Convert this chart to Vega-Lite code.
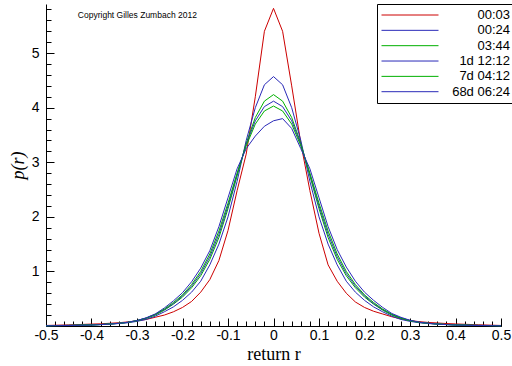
{
  "$schema": "https://vega.github.io/schema/vega-lite/v6.json",
  "width": 455,
  "height": 322,
  "autosize": "none",
  "padding": {"left": 46, "top": 4, "right": 11, "bottom": 40},
  "background": "white",
  "config": {
    "view": {"stroke": null},
    "axis": {
      "grid": false,
      "labelFont": "Liberation Sans",
      "labelFontSize": 14,
      "labelColor": "black",
      "labelFlush": false,
      "labelOverlap": false,
      "tickColor": "black",
      "domainColor": "black",
      "titleFont": "Liberation Serif",
      "titleFontSize": 18,
      "titleFontWeight": "normal",
      "titleColor": "black"
    }
  },
  "layer": [
    {
      "data": {"name": "curves"},
      "transform": [
        {"fold": ["00:03", "00:24", "03:44", "1d 12:12", "7d 04:12", "68d 06:24"], "as": ["series", "p"]}
      ],
      "mark": {"type": "line", "opacity": 0},
      "encoding": {
        "x": {
          "field": "x", "type": "quantitative",
          "scale": {"domain": [-0.5, 0.5], "nice": false, "zero": false},
          "axis": {"orient": "bottom", "tickCount": 50, "labels": false, "domain": false, "tickSize": -5, "title": null}
        },
        "y": {
          "field": "p", "type": "quantitative",
          "scale": {"domain": [0, 5.9], "nice": false, "zero": false},
          "axis": {"orient": "left", "tickCount": 30, "labels": false, "domain": false, "tickSize": -5, "title": null}
        },
        "detail": {"field": "series"}
      }
    },
    {
      "data": {"name": "curves"},
      "transform": [
        {"fold": ["00:03", "00:24", "03:44", "1d 12:12", "7d 04:12", "68d 06:24"], "as": ["series", "p"]}
      ],
      "mark": {"type": "line", "strokeWidth": 1},
      "encoding": {
        "x": {
          "field": "x", "type": "quantitative",
          "axis": {
            "orient": "bottom", "tickCount": 10, "tickSize": -8, "labelPadding": 10,
            "labelExpr": "replace(format(datum.value, '~g'), '\u2212', '-')",
            "title": "return  r", "titlePadding": 3
          }
        },
        "y": {
          "field": "p", "type": "quantitative",
          "axis": {
            "orient": "left", "tickCount": 6, "tickSize": -8, "labelPadding": 15,
            "labelExpr": "datum.value == 0 ? '' : format(datum.value, 'd')",
            "title": "p(r)", "titleFontStyle": "italic", "titlePadding": 4
          }
        },
        "color": {
          "field": "series", "type": "nominal",
          "scale": {
            "domain": ["00:03", "00:24", "03:44", "1d 12:12", "7d 04:12", "68d 06:24"],
            "range": ["#cc0000", "#2a2ab8", "#00b000", "#2a2ab8", "#00b000", "#2a2ab8"]
          },
          "legend": {
            "orient": "none", "legendX": 331, "legendY": 0,
            "title": null,
            "symbolType": "stroke", "symbolSize": 3249, "symbolStrokeWidth": 1,
            "clipHeight": 14, "rowPadding": 1.34,
            "labelAlign": "right", "labelOffset": 71,
            "labelFont": "Liberation Sans", "labelFontSize": 13, "labelColor": "black",
            "padding": 4, "strokeColor": "black", "fillColor": "white", "cornerRadius": 0
          }
        }
      }
    },
    {
      "data": {"values": [{"note": "Copyright Gilles Zumbach 2012"}]},
      "mark": {"type": "text", "font": "Liberation Sans", "fontSize": 8.5, "align": "left", "baseline": "middle", "fill": "black"},
      "encoding": {
        "text": {"field": "note"},
        "x": {"datum": -0.43, "type": "quantitative", "axis": null},
        "y": {"datum": 5.69, "type": "quantitative", "axis": null}
      }
    }
  ],
  "datasets": {
    "curves": [
      {"x": -0.5, "00:03": 0.01, "00:24": 0.007, "03:44": 0.006, "1d 12:12": 0.005, "7d 04:12": 0.005, "68d 06:24": 0.004},
      {"x": -0.45, "00:03": 0.02, "00:24": 0.012, "03:44": 0.011, "1d 12:12": 0.01, "7d 04:12": 0.01, "68d 06:24": 0.009},
      {"x": -0.4, "00:03": 0.035, "00:24": 0.02, "03:44": 0.02, "1d 12:12": 0.02, "7d 04:12": 0.02, "68d 06:24": 0.018},
      {"x": -0.38, "00:03": 0.04, "00:24": 0.027, "03:44": 0.027, "1d 12:12": 0.027, "7d 04:12": 0.027, "68d 06:24": 0.025},
      {"x": -0.36, "00:03": 0.05, "00:24": 0.035, "03:44": 0.036, "1d 12:12": 0.037, "7d 04:12": 0.037, "68d 06:24": 0.035},
      {"x": -0.34, "00:03": 0.06, "00:24": 0.045, "03:44": 0.048, "1d 12:12": 0.05, "7d 04:12": 0.05, "68d 06:24": 0.048},
      {"x": -0.32, "00:03": 0.075, "00:24": 0.06, "03:44": 0.065, "1d 12:12": 0.068, "7d 04:12": 0.068, "68d 06:24": 0.068},
      {"x": -0.3, "00:03": 0.095, "00:24": 0.085, "03:44": 0.095, "1d 12:12": 0.1, "7d 04:12": 0.1, "68d 06:24": 0.1},
      {"x": -0.28, "00:03": 0.12, "00:24": 0.12, "03:44": 0.14, "1d 12:12": 0.145, "7d 04:12": 0.145, "68d 06:24": 0.15},
      {"x": -0.26, "00:03": 0.16, "00:24": 0.18, "03:44": 0.2, "1d 12:12": 0.21, "7d 04:12": 0.215, "68d 06:24": 0.22},
      {"x": -0.24, "00:03": 0.2, "00:24": 0.26, "03:44": 0.29, "1d 12:12": 0.3, "7d 04:12": 0.31, "68d 06:24": 0.33},
      {"x": -0.22, "00:03": 0.26, "00:24": 0.35, "03:44": 0.4, "1d 12:12": 0.41, "7d 04:12": 0.43, "68d 06:24": 0.46},
      {"x": -0.2, "00:03": 0.34, "00:24": 0.47, "03:44": 0.53, "1d 12:12": 0.55, "7d 04:12": 0.57, "68d 06:24": 0.61},
      {"x": -0.18, "00:03": 0.45, "00:24": 0.62, "03:44": 0.7, "1d 12:12": 0.73, "7d 04:12": 0.76, "68d 06:24": 0.81},
      {"x": -0.16, "00:03": 0.62, "00:24": 0.82, "03:44": 0.92, "1d 12:12": 0.96, "7d 04:12": 1.0, "68d 06:24": 1.06},
      {"x": -0.14, "00:03": 0.85, "00:24": 1.12, "03:44": 1.22, "1d 12:12": 1.27, "7d 04:12": 1.32, "68d 06:24": 1.38},
      {"x": -0.12, "00:03": 1.2, "00:24": 1.5, "03:44": 1.62, "1d 12:12": 1.68, "7d 04:12": 1.74, "68d 06:24": 1.82},
      {"x": -0.1, "00:03": 1.75, "00:24": 2.0, "03:44": 2.15, "1d 12:12": 2.2, "7d 04:12": 2.25, "68d 06:24": 2.35},
      {"x": -0.08, "00:03": 2.48, "00:24": 2.65, "03:44": 2.75, "1d 12:12": 2.78, "7d 04:12": 2.8, "68d 06:24": 2.88},
      {"x": -0.06, "00:03": 3.15, "00:24": 3.4, "03:44": 3.35, "1d 12:12": 3.33, "7d 04:12": 3.3, "68d 06:24": 3.25},
      {"x": -0.04, "00:03": 4.2, "00:24": 4.0, "03:44": 3.82, "1d 12:12": 3.76, "7d 04:12": 3.7, "68d 06:24": 3.48},
      {"x": -0.02, "00:03": 5.4, "00:24": 4.42, "03:44": 4.12, "1d 12:12": 4.02, "7d 04:12": 3.94, "68d 06:24": 3.66},
      {"x": 0, "00:03": 5.82, "00:24": 4.57, "03:44": 4.24, "1d 12:12": 4.12, "7d 04:12": 4.03, "68d 06:24": 3.76},
      {"x": 0.02, "00:03": 5.4, "00:24": 4.42, "03:44": 4.12, "1d 12:12": 4.02, "7d 04:12": 3.94, "68d 06:24": 3.8},
      {"x": 0.04, "00:03": 4.4, "00:24": 4.0, "03:44": 3.82, "1d 12:12": 3.76, "7d 04:12": 3.7, "68d 06:24": 3.62},
      {"x": 0.06, "00:03": 3.35, "00:24": 3.4, "03:44": 3.35, "1d 12:12": 3.33, "7d 04:12": 3.3, "68d 06:24": 3.25},
      {"x": 0.08, "00:03": 2.48, "00:24": 2.65, "03:44": 2.75, "1d 12:12": 2.78, "7d 04:12": 2.8, "68d 06:24": 2.88},
      {"x": 0.1, "00:03": 1.7, "00:24": 2.0, "03:44": 2.15, "1d 12:12": 2.2, "7d 04:12": 2.25, "68d 06:24": 2.35},
      {"x": 0.12, "00:03": 1.12, "00:24": 1.5, "03:44": 1.62, "1d 12:12": 1.68, "7d 04:12": 1.74, "68d 06:24": 1.82},
      {"x": 0.14, "00:03": 0.82, "00:24": 1.12, "03:44": 1.22, "1d 12:12": 1.27, "7d 04:12": 1.32, "68d 06:24": 1.4},
      {"x": 0.16, "00:03": 0.6, "00:24": 0.82, "03:44": 0.92, "1d 12:12": 0.96, "7d 04:12": 1.0, "68d 06:24": 1.08},
      {"x": 0.18, "00:03": 0.44, "00:24": 0.62, "03:44": 0.7, "1d 12:12": 0.73, "7d 04:12": 0.76, "68d 06:24": 0.82},
      {"x": 0.2, "00:03": 0.34, "00:24": 0.47, "03:44": 0.53, "1d 12:12": 0.55, "7d 04:12": 0.57, "68d 06:24": 0.62},
      {"x": 0.22, "00:03": 0.27, "00:24": 0.35, "03:44": 0.4, "1d 12:12": 0.41, "7d 04:12": 0.43, "68d 06:24": 0.47},
      {"x": 0.24, "00:03": 0.22, "00:24": 0.26, "03:44": 0.29, "1d 12:12": 0.3, "7d 04:12": 0.31, "68d 06:24": 0.34},
      {"x": 0.26, "00:03": 0.17, "00:24": 0.18, "03:44": 0.2, "1d 12:12": 0.21, "7d 04:12": 0.215, "68d 06:24": 0.23},
      {"x": 0.28, "00:03": 0.13, "00:24": 0.12, "03:44": 0.14, "1d 12:12": 0.145, "7d 04:12": 0.145, "68d 06:24": 0.16},
      {"x": 0.3, "00:03": 0.1, "00:24": 0.085, "03:44": 0.095, "1d 12:12": 0.1, "7d 04:12": 0.1, "68d 06:24": 0.105},
      {"x": 0.32, "00:03": 0.08, "00:24": 0.06, "03:44": 0.065, "1d 12:12": 0.068, "7d 04:12": 0.068, "68d 06:24": 0.07},
      {"x": 0.34, "00:03": 0.065, "00:24": 0.045, "03:44": 0.048, "1d 12:12": 0.05, "7d 04:12": 0.05, "68d 06:24": 0.05},
      {"x": 0.36, "00:03": 0.055, "00:24": 0.035, "03:44": 0.036, "1d 12:12": 0.037, "7d 04:12": 0.037, "68d 06:24": 0.035},
      {"x": 0.38, "00:03": 0.045, "00:24": 0.027, "03:44": 0.027, "1d 12:12": 0.027, "7d 04:12": 0.027, "68d 06:24": 0.025},
      {"x": 0.4, "00:03": 0.038, "00:24": 0.02, "03:44": 0.02, "1d 12:12": 0.02, "7d 04:12": 0.02, "68d 06:24": 0.018},
      {"x": 0.45, "00:03": 0.022, "00:24": 0.012, "03:44": 0.011, "1d 12:12": 0.01, "7d 04:12": 0.01, "68d 06:24": 0.009},
      {"x": 0.5, "00:03": 0.01, "00:24": 0.007, "03:44": 0.006, "1d 12:12": 0.005, "7d 04:12": 0.005, "68d 06:24": 0.004}
    ]
  },
  "resolve": {"axis": {"x": "independent", "y": "independent"}}
}
